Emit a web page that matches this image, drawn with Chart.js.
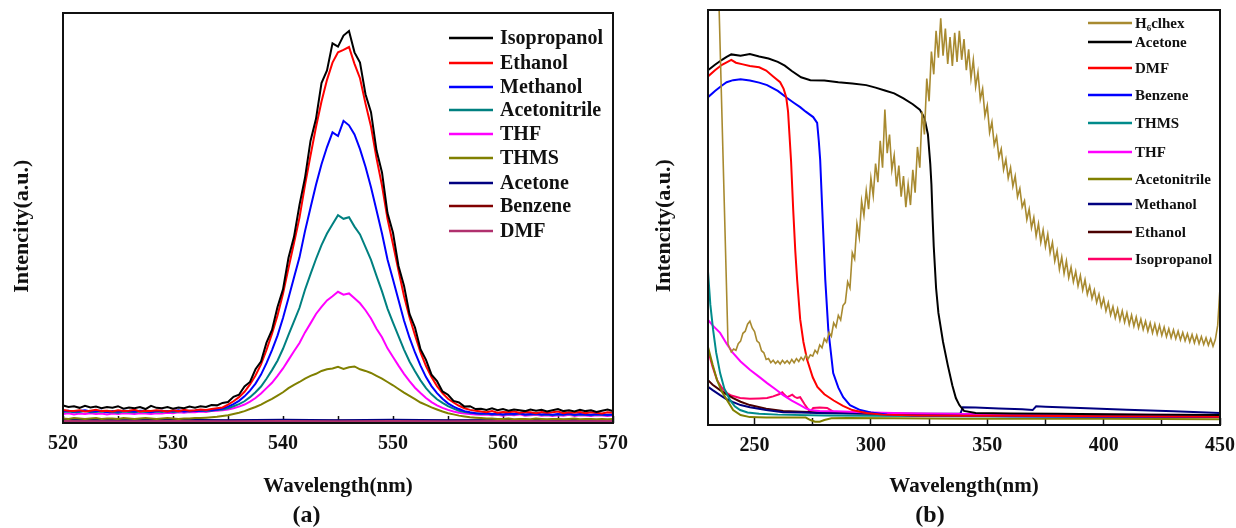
<!DOCTYPE html>
<html><head><meta charset="utf-8">
<script src="https://cdn.jsdelivr.net/npm/chart.js@4.4.1/dist/chart.umd.min.js"></script>
<style>
html,body{margin:0;padding:0;background:#fff;}
#wrap{position:relative;width:1236px;height:528px;overflow:hidden;background:#fff;}
canvas{position:absolute;top:0;}
#ca{left:0;} #cb{left:640px;}
</style></head><body>
<div id="wrap"><canvas id="ca" width="640" height="528"></canvas><canvas id="cb" width="596" height="528"></canvas></div>
<script>
// ---------- Panel (a): emission spectra ----------
const emWavelength = [520,520.5,521,521.5,522,522.5,523,523.5,524,524.5,525,525.5,526,526.5,527,527.5,528,528.5,529,529.5,530,530.5,531,531.5,532,532.5,533,533.5,534,534.5,535,535.5,536,536.5,537,537.5,538,538.5,539,539.5,540,540.5,541,541.5,542,542.5,543,543.5,544,544.5,545,545.5,546,546.5,547,547.5,548,548.5,549,549.5,550,550.5,551,551.5,552,552.5,553,553.5,554,554.5,555,555.5,556,556.5,557,557.5,558,558.5,559,559.5,560,560.5,561,561.5,562,562.5,563,563.5,564,564.5,565,565.5,566,566.5,567,567.5,568,568.5,569,569.5,570];
const emIsopropanol = [4.3,3.9,4.1,3.7,4.2,3.8,4.0,3.6,3.9,3.7,4.1,3.5,3.8,3.6,3.9,3.4,4.2,3.7,3.6,3.9,3.5,3.8,3.6,4.0,3.7,4.1,3.9,
 4.4,4.3,4.9,5.1,6.4,6.9,8.9,10.0,13.1,15.0,19.6,22.7,28.3,32.6,40.3,45.4,53.2,59.8,68.8,74.2,82.9,86.0,92.6,91.8,94.5,95.6,90.4,87.9,80.2,75.8,66.5,61.1,51.2,46.4,38.3,33.5,26.6,23.3,18.0,15.4,11.8,10.2,7.7,6.9,5.4,5.0,4.0,4.1,3.4,
 3.5,3.2,3.6,3.1,3.4,3.0,3.3,3.1,2.9,3.3,3.0,3.2,2.8,3.1,3.4,2.9,3.1,2.8,3.2,2.9,3.1,2.7,3.0,3.3,2.9];
const emEthanol = [3.2,3.0,2.9,3.1,2.8,3.0,3.2,2.9,3.0,2.8,3.1,2.9,3.0,3.2,2.8,3.0,2.9,3.1,3.0,2.8,3.1,2.9,3.2,3.0,3.1,3.3,3.2,
 3.4,3.6,3.8,4.5,5.3,6.3,7.6,9.4,11.6,14.3,17.8,21.8,26.2,31.5,37.8,43.9,50.1,58.0,65.2,72.2,78.4,83.7,87.9,90.4,91.0,91.7,87.6,84.1,77.9,72.3,64.6,57.9,49.8,43.6,37.2,31.0,25.8,21.4,17.2,13.9,11.2,9.0,7.3,5.9,5.0,4.2,3.6,3.2,3.0,
 2.8,2.6,2.9,2.5,2.7,2.6,2.8,2.5,2.7,2.6,2.4,2.7,2.5,2.6,2.8,2.4,2.6,2.5,2.7,2.4,2.6,2.5,2.3,2.6,2.5];
const emMethanol = [2.9,3.0,2.8,2.9,3.1,2.8,2.9,3.0,2.7,2.9,2.8,3.0,2.9,2.8,3.0,2.9,2.7,2.9,3.0,2.8,2.9,3.1,2.8,3.0,2.9,3.0,3.1,
 3.1,3.3,3.5,4.0,4.6,5.4,6.5,7.9,9.6,11.8,14.6,17.8,21.3,25.6,30.5,35.5,40.4,46.8,52.5,58.1,63.1,67.3,70.9,70.0,73.7,72.6,70.4,66.8,62.5,57.5,51.9,46.2,39.9,35.0,30.0,25.0,20.8,17.2,14.0,11.2,9.0,7.3,5.9,4.8,4.0,3.4,2.9,2.6,2.4,
 2.3,2.4,2.2,2.3,2.1,2.3,2.2,2.4,2.1,2.2,2.3,2.1,2.2,2.0,2.2,2.1,2.3,2.0,2.2,2.1,2.0,2.2,2.1,2.0,2.1];
const emAcetonitrile = [2.7,2.8,2.6,2.7,2.9,2.6,2.7,2.8,2.6,2.7,2.5,2.8,2.7,2.6,2.8,2.7,2.6,2.8,2.7,2.9,2.7,2.8,2.9,2.8,3.0,2.9,3.0,
 3.0,3.2,3.3,3.6,4.1,4.6,5.3,6.3,7.5,8.9,10.8,12.9,15.2,18.1,21.5,24.8,28.1,32.5,36.3,40.0,43.4,46.2,48.5,50.7,49.8,50.2,47.9,46.0,42.9,39.8,35.9,32.1,27.9,24.5,21.2,17.9,15.0,12.6,10.4,8.5,7.0,5.8,4.9,4.1,3.5,3.0,2.7,2.5,2.4,
 2.2,2.3,2.1,2.2,2.0,2.2,2.1,2.3,2.0,2.1,2.2,2.0,2.1,1.9,2.1,2.0,2.2,1.9,2.1,2.0,1.9,2.1,2.0,1.9,2.0];
const emTHF = [2.2,2.4,2.1,2.3,2.2,2.4,2.2,2.3,2.1,2.3,2.2,2.4,2.3,2.2,2.4,2.3,2.2,2.4,2.3,2.5,2.4,2.6,2.5,2.7,2.6,2.8,2.7,
 2.9,3.0,3.1,3.3,3.6,4.0,4.5,5.2,6.1,7.2,8.5,9.8,11.5,13.3,15.4,17.5,19.5,22.1,24.3,26.6,28.3,29.9,30.9,32.0,31.3,31.6,30.4,29.2,27.5,25.5,23.0,20.9,18.2,16.1,14.0,12.0,10.2,8.6,7.3,6.1,5.1,4.3,3.7,3.2,2.8,2.5,2.3,2.2,2.1,
 2.0,2.1,1.9,2.0,1.8,2.0,1.9,2.1,1.8,1.9,2.0,1.8,1.9,1.7,1.9,1.8,2.0,1.7,1.9,1.8,1.7,1.9,1.8,1.7,1.8];
const emTHMS = [1.1,1.0,1.2,1.1,1.0,1.1,1.2,1.0,1.1,1.1,1.0,1.2,1.1,1.0,1.1,1.2,1.1,1.0,1.1,1.2,1.1,1.0,1.1,
 1.1,1.2,1.2,1.3,1.4,1.5,1.7,1.9,2.2,2.5,2.9,3.4,3.9,4.5,5.2,5.9,6.7,7.5,8.5,9.3,10.0,10.8,11.5,12.0,12.7,13.1,13.3,13.7,
 13.2,13.6,13.8,13.1,12.7,12.2,11.5,10.8,10.0,9.2,8.3,7.4,6.6,5.8,5.0,4.4,3.8,3.3,2.8,2.4,2.1,1.8,1.6,1.4,1.3,1.2,1.1,1.1,1.0,
 1.0,1.1,0.9,1.0,1.0,0.9,1.1,1.0,0.9,1.0,1.0,0.9,1.0,1.1,0.9,1.0,1.0,0.9,1.0,0.9,1.0];
const emFlatWavelength = [520,525,530,535,540,545,550,555,560,565,570];
const emAcetone = [0.8,0.7,0.8,0.7,0.8,0.7,0.8,0.7,0.7,0.8,0.7];
const emBenzene = [0.6,0.6,0.5,0.6,0.5,0.6,0.5,0.6,0.6,0.5,0.6];
const emDMF = [0.5,0.4,0.5,0.4,0.5,0.4,0.5,0.4,0.5,0.4,0.5];
const emLabels = ['Isopropanol','Ethanol','Methanol','Acetonitrile','THF','THMS','Acetone','Benzene','DMF'];
const emColors = ['#000000','#ff0000','#0000ff','#008080','#ff00ff','#808000','#000080','#800000','#b0306e'];

// ---------- Panel (b): absorption spectra ----------
const abGoldX = [234.6,238.6,240,241,242,243,244,245,246,247,248,249,250,251,252,253,254,255,256,257,258,259,260,261,262,263,264,265,266,267,268,269,270,271,272,273,274,275,276,277,278,279,280,281,282,283,284,285,286,287,288,289,290,291,292,293,294,295,296,297,298,299,300,301,302,303,304,305,306,307,308,309,310,311,312,313,314,315,316,317,318,319,320,321,322,323,324,325,326,327,328,329,330,331,332,333,334,335,336,337,338,339,340,341,342,343,344,345,346,347,348,349,350,351,352,353,354,355,356,357,358,359,360,361,362,363,364,365,366,367,368,369,370,371,372,373,374,375,376,377,378,379,380,381,382,383,384,385,386,387,388,389,390,391,392,393,394,395,396,397,398,399,400,401,402,403,404,405,406,407,408,409,410,411,412,413,414,415,416,417,418,419,420,421,422,423,424,425,426,427,428,429,430,431,432,433,434,435,436,437,438,439,440,441,442,443,444,445,446,447,448,449,450];
const abGoldY = [104,19.5,
 17.6,18.3,18.0,19.6,20.2,22.1,22.6,24.3,25.0,23.4,
 22.5,20.3,19.8,17.9,17.4,15.8,16.0,15.0,15.6,14.8,
 15.4,14.7,15.6,14.9,15.5,14.8,15.8,15.0,16.0,15.3,
 16.3,15.6,16.8,15.9,16.9,16.6,18.0,17.3,19.3,18.6,
 20.8,20.0,22.3,21.4,24.6,23.6,26.4,25.3,28.8,29.5,
 34.5,33.0,41.5,40.0,48.5,45.2,54.0,50.5,56.5,52.0,
 59.5,55.2,63.0,58.5,68.5,62.0,76.0,65.5,70.0,61.5,
 65.0,57.5,62.5,55.0,60.0,52.5,58.0,53.0,61.5,56.0,
 67.0,62.0,75.5,70.0,83.5,78.0,90.0,84.5,95.0,88.5,
 98.0,89.0,95.5,87.0,93.5,86.5,94.5,87.5,95.0,88.0,
 93.0,85.5,90.5,83.5,88.0,81.5,85.0,78.5,81.0,74.5,
 77.0,70.5,73.0,67.5,69.5,64.5,66.5,61.5,64.0,59.5,
 62.0,57.5,60.0,55.0,57.0,52.5,54.0,49.5,52.0,47.5,
 50.0,45.5,48.5,44.0,47.0,43.0,46.0,41.5,44.0,39.5,
 42.0,37.5,40.5,36.5,39.5,35.5,38.0,34.5,37.0,33.5,
 36.0,32.5,35.0,31.5,33.5,30.5,32.5,29.5,31.5,28.5,
 30.5,27.5,29.5,26.5,28.5,25.8,28.0,25.2,27.5,24.8,
 27.0,24.2,26.5,23.8,26.0,23.4,25.5,23.0,25.0,22.6,
 24.6,22.2,24.3,21.9,24.0,21.6,23.6,21.3,23.2,21.0,
 22.9,20.8,22.6,20.5,22.3,20.3,22.0,20.0,21.8,19.8,
 21.6,19.6,21.3,19.4,21.0,19.2,20.8,19.0,20.6,24.0,
 33.0];
const abAcetoneX = [230,233,236,238,240,244,248,252,256,260,263,266,270,274,280,286,292,298,302,306,310,314,318,321,323,324.5,325.5,326,326.5,327,328,329,331,333,335,336.5,338,340,345,360,380,400,420,450];
const abAcetoneY = [85.5,86.8,88.0,88.7,89.3,89.0,89.4,88.8,88.3,87.5,86.6,85.3,83.8,83.1,83.0,82.6,82.3,81.9,81.3,80.6,79.9,78.7,77.3,76.0,74.0,70.0,63.0,58.0,50.0,43.0,33.0,27.0,20.0,14.5,9.5,6.5,4.8,3.4,2.9,2.8,2.7,2.6,2.5,2.4];
const abDMFX = [230,233,236,238,240,242,245,248,252,255,258,261,262.5,263.6,264.4,265,265.7,266.6,267.5,268.3,269.6,271,272.6,275,277,280,284,288,292,298,305,320,340,360,400,450];
const abDMFY = [84.0,85.5,86.8,87.4,88.0,87.3,86.9,86.5,86.2,85.4,84.0,82.6,81.0,79.0,75.5,70.0,63.5,52.0,42.0,35.0,25.5,20.0,15.7,11.5,9.2,7.4,5.9,4.6,3.6,2.9,2.5,2.3,2.2,2.2,2.1,2.0];
const abBenzeneX = [230,233,236,238,240.8,244,248,252,255.4,260,264,267,269.6,272,275.2,276.9,277.6,278.2,279.1,280.4,281.7,283.8,286,288.1,291,295.4,300,307,320,340,360,400,450];
const abBenzeneY = [79.0,80.5,81.8,82.6,83.1,83.3,83.0,82.5,81.9,80.5,78.8,77.6,76.6,75.5,74.2,72.8,68.5,63.9,51.8,34.9,22.9,12.5,9.0,6.7,4.8,3.6,3.0,2.5,2.3,2.2,2.1,2.0,1.9];
const abTHMSX = [230,231,232.2,233.5,235.2,237,239.5,241.5,243.8,247,252,260,280,300,340,400,450];
const abTHMSY = [37.0,29.0,22.9,17.5,12.5,8.8,6.0,4.5,3.6,3.0,2.7,2.5,2.3,2.2,2.1,2.0,1.9];
const abTHFX = [230,232,235.2,238,240.8,244,248,252,255.4,259,262.3,266,269.6,272,273.9,278,285,300,320,350,400,450];
const abTHFY = [25.3,24.0,22.2,19.6,17.3,15.3,13.3,11.6,10.1,8.6,7.2,5.9,4.8,4.0,3.6,3.4,3.3,3.0,2.8,2.6,2.5,2.4];
const abAcetonitrileX = [230,232,233.9,236,238.2,240.8,244,248,255,265,272,274,276,278,280,283,290,310,340,400,450];
const abAcetonitrileY = [18.8,14.5,10.8,8.0,6.0,3.6,2.4,1.9,1.8,1.8,1.8,1.2,0.8,0.8,1.2,1.6,1.7,1.6,1.5,1.5,1.4];
const abMethanolX = [230,232,235.2,238,240.8,244,248,255,262.3,270,277,290,310,330,338.5,339.5,345,355,365,369.5,371,375,390,410,430,450];
const abMethanolY = [9.2,8.4,7.2,6.2,5.5,4.8,4.3,3.6,3.1,3.0,2.9,2.8,2.7,2.7,2.8,4.3,4.2,4.0,3.8,3.6,4.5,4.4,4.1,3.7,3.3,2.9];
const abEthanolX = [230,232,235.2,238,240.8,244,248,255,262.3,270,280,300,340,400,450];
const abEthanolY = [10.8,9.7,8.4,7.4,6.5,5.6,4.8,3.9,3.4,3.2,3.0,2.8,2.6,2.5,2.4];
const abIsopropanolX = [230,232,233.9,236,238.2,240,243.8,248,252,255.4,258,260.5,261.9,263,264,265.2,266.2,267.2,268.3,269.6,271.5,273.9,275.2,278,281.2,283.8,288,300,320,350,400,450];
const abIsopropanolY = [18.0,14.0,10.8,8.9,7.7,7.1,6.5,6.3,6.4,6.5,6.9,7.4,7.9,7.2,6.7,7.0,7.3,6.8,6.5,6.7,5.0,3.1,4.1,4.2,4.1,3.2,2.9,2.7,2.5,2.4,2.2,2.1];
const abLabels = ['H\u2086clhex','Acetone','DMF','Benzene','THMS','THF','Acetonitrile','Methanol','Ethanol','Isopropanol'];
const abColors = ['#a88a30','#000000','#ff0000','#0000ff','#008b8b','#ff00ff','#808000','#000080','#4a0000','#ff0066'];

// ---------- helpers ----------
const SERIF = '"Liberation Serif", "Times New Roman", serif';
const YTITLE = 'Intencity(a.u.)\u00a0\u00a0\u00a0';
const pts = (xs, ys) => xs.map((x, i) => ({x, y: ys[i]}));

const framePlugin = {
  id: 'frame',
  afterDatasetsDraw(chart, args, o) {
    const {ctx, chartArea: a} = chart;
    ctx.save();
    ctx.strokeStyle = o.color; ctx.lineWidth = o.width;
    ctx.strokeRect(a.left, a.top, a.right - a.left, a.bottom - a.top);
    ctx.restore();
  }
};
const insideLegend = {
  id: 'insideLegend',
  afterDraw(chart, args, o) {
    const ctx = chart.ctx;
    ctx.save();
    ctx.font = o.font; ctx.textBaseline = 'middle'; ctx.textAlign = 'left';
    chart.data.datasets.forEach((ds, i) => {
      const y = o.rows[i];
      ctx.strokeStyle = ds.borderColor; ctx.lineWidth = o.lineWidth;
      ctx.beginPath(); ctx.moveTo(o.x0, y); ctx.lineTo(o.x1, y); ctx.stroke();
      ctx.fillStyle = '#111';
      ctx.fillText(ds.label, o.tx, y + 1);
    });
    ctx.restore();
  }
};

function makeOptions(cfg) {
  return {
    responsive: false, animation: false, events: [],
    layout: {padding: cfg.padding},
    elements: {point: {radius: 0}, line: {tension: 0, borderWidth: cfg.lw}},
    plugins: {
      legend: {display: false}, tooltip: {enabled: false},
      title: {display: true, position: 'bottom', text: cfg.letter, color: '#111',
              font: {family: SERIF, size: 24, weight: 'bold', lineHeight: 1.0}, padding: {top: 0, bottom: 0}},
      frame: {color: '#111', width: 2},
      insideLegend: cfg.legend
    },
    scales: {
      x: {
        type: 'linear', min: cfg.xmin, max: cfg.xmax,
        ticks: {stepSize: cfg.step, includeBounds: false, autoSkip: false, maxRotation: 0, padding: 16, color: '#111',
                font: {family: SERIF, size: 20, weight: 'bold'},
                callback: v => (v % cfg.labelEvery === 0 ? String(v) : '')},
        grid: {drawOnChartArea: false, drawTicks: true, tickLength: -7, tickColor: '#111', tickWidth: 1.5},
        border: {display: false},
        title: {display: true, text: 'Wavelength(nm)', color: '#111',
                font: {family: SERIF, size: 21, weight: 'bold', lineHeight: 1.0}, padding: {top: 0, bottom: 6.5}},
        afterFit: s => { s.height = cfg.xh; s.paddingLeft = 0; s.paddingRight = 0; }
      },
      y: {
        min: 0, max: 100,
        ticks: {display: false},
        grid: {display: false},
        border: {display: false},
        title: {display: true, text: YTITLE, color: '#111',
                font: {family: SERIF, size: 22, weight: 'bold', lineHeight: 1.0}, padding: {top: cfg.ytp, bottom: 0}},
        afterFit: s => { s.width = cfg.yw; }
      }
    }
  };
}

// ---------- chart (a) ----------
const emY = [emIsopropanol, emEthanol, emMethanol, emAcetonitrile, emTHF, emTHMS];
const emDatasets = emLabels.map((lab, i) => ({
  label: lab,
  data: i < 6 ? pts(emWavelength, emY[i]) : pts(emFlatWavelength, [emAcetone, emBenzene, emDMF][i - 6]),
  borderColor: emColors[i], backgroundColor: emColors[i], fill: false,
  order: lab === 'DMF' ? -1 : 0
}));
new Chart(document.getElementById('ca'), {
  type: 'line',
  data: {datasets: emDatasets},
  options: makeOptions({
    padding: {left: 0, right: 27, top: 13, bottom: 0}, lw: 2,
    xmin: 520, xmax: 570, step: 5, labelEvery: 10, xh: 81, yw: 63, ytp: 11, letter: '(a)',
    legend: {font: 'bold 20px ' + SERIF, x0: 449, x1: 493, tx: 500, lineWidth: 2.5,
             rows: [38, 63, 87, 110, 134, 158, 183, 206, 231]}
  }),
  plugins: [framePlugin, insideLegend]
});

// ---------- chart (b) ----------
const abSeries = [[abGoldX, abGoldY],[abAcetoneX, abAcetoneY],[abDMFX, abDMFY],[abBenzeneX, abBenzeneY],[abTHMSX, abTHMSY],
                  [abTHFX, abTHFY],[abAcetonitrileX, abAcetonitrileY],[abMethanolX, abMethanolY],[abEthanolX, abEthanolY],[abIsopropanolX, abIsopropanolY]];
const abDatasets = abLabels.map((lab, i) => ({
  label: lab, data: pts(abSeries[i][0], abSeries[i][1]),
  borderColor: abColors[i], backgroundColor: abColors[i], fill: false,
  borderWidth: i === 0 ? 1.6 : 2
}));
new Chart(document.getElementById('cb'), {
  type: 'line',
  data: {datasets: abDatasets},
  options: makeOptions({
    padding: {left: 0, right: 16, top: 10, bottom: 0}, lw: 2,
    xmin: 230, xmax: 450, step: 25, labelEvery: 50, xh: 79, yw: 68, ytp: 13, letter: '(b)',
    legend: {font: 'bold 15px ' + SERIF, x0: 448, x1: 492, tx: 495, lineWidth: 2.5,
             rows: [23, 42, 68, 95, 123, 152, 179, 204, 232, 259]}
  }),
  plugins: [framePlugin, insideLegend]
});
</script>
</body></html>
